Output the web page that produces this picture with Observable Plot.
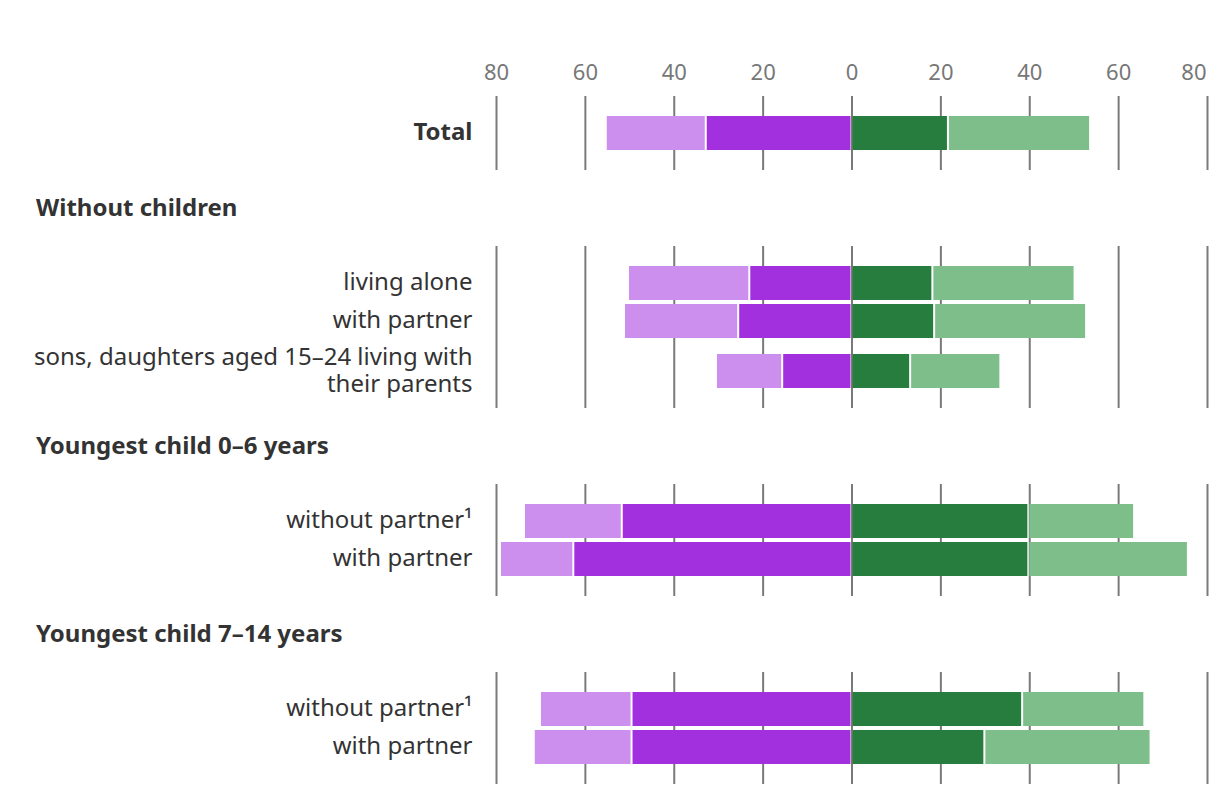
<!DOCTYPE html>
<html>
<head>
<meta charset="utf-8">
<script src="https://cdn.jsdelivr.net/npm/d3@7"></script>
<script src="https://cdn.jsdelivr.net/npm/@observablehq/plot@0.6"></script>
<style>
  html, body { margin: 0; padding: 0; background: #fff; overflow: hidden; }
  body { font-family: "Noto Sans", "Open Sans", sans-serif; color: #333; }
  svg { display: block; overflow: visible; }
  .hdr { height: 76px; box-sizing: border-box; padding-left: 36px; padding-top: 22px; font-size: 24px; font-weight: 700; line-height: 30px; color: #333; white-space: nowrap; }
</style>
</head>
<body>
<div id="chart"></div>
<script>
// ---- data ----
const groupNames = ["Total", "Without children", "Youngest child 0–6 years", "Youngest child 7–14 years"];
const categories = [
  "Total",
  "living alone",
  "with partner",
  "sons, daughters aged 15–24 living with\ntheir parents",
  "without partner¹",
  "with partner",
  "without partner¹",
  "with partner"
];
const rowGroup = [0, 1, 1, 1, 2, 2, 3, 3];
const darkPurple  = [32.8, 23.0, 25.5, 15.6, 51.7, 62.6, 49.5, 49.5];
const lightPurple = [22.5, 27.3, 25.7, 14.9, 22.0, 16.5, 20.6, 22.0];
const darkGreen   = [21.7, 18.2, 18.6, 13.2, 39.8, 39.8, 38.4, 29.9];
const lightGreen  = [32.0, 32.0, 34.2, 20.3, 23.8, 35.9, 27.5, 37.4];
const tickValues = [-80, -60, -40, -20, 0, 20, 40, 60, 80];

const seriesNames = ["darkPurple", "lightPurple", "darkGreen", "lightGreen"];
const seriesColors = ["#a230de", "#cc8fee", "#267d3e", "#7dbe8a"];

function rowsData(rows) {
  return rows.flatMap(i => [
    {row: categories[i], series: "darkPurple", value: -darkPurple[i]},
    {row: categories[i], series: "lightPurple", value: -lightPurple[i]},
    {row: categories[i], series: "darkGreen", value: darkGreen[i]},
    {row: categories[i], series: "lightGreen", value: lightGreen[i]}
  ]);
}

const FONT = "Noto Sans, Open Sans, sans-serif";
const STEP = 38;
function panel(rows, {mt, mb, gridTop, gridBottom, top = false, bold = false}) {
  const height = mt + mb + rows.length * STEP;
  const marks = [
    Plot.ruleX(tickValues, {x: d => d, stroke: "#7a7a7a", strokeWidth: 2, insetTop: -gridTop, insetBottom: -gridBottom}),
    Plot.barX(rowsData(rows), Plot.stackX({
      x: "value", y: "row", fill: "series", order: seriesNames,
      insetLeft: 1, insetRight: 1, insetTop: 2, insetBottom: 2
    })),
    Plot.axisY({tickSize: 0, tickPadding: 24, fontSize: 24, fill: "#333", color: "#333", fontWeight: bold ? 700 : 400, lineAnchor: "middle", lineHeight: 1.12, dy: -2, label: null})
  ];
  if (top) {
    marks.push(Plot.axisX(tickValues.slice(0, -1), {anchor: "top", tickSize: 0, tickPadding: 35, tickFormat: d => Math.abs(d), fontSize: 22, fill: "#777", color: "#777", label: null}));
    marks.push(Plot.axisX(tickValues.slice(-1), {anchor: "top", tickSize: 0, tickPadding: 35, tickFormat: d => Math.abs(d), fontSize: 22, fill: "#777", color: "#777", textAnchor: "end", dx: -1, label: null}));
  }
  return Plot.plot({
    width: 1220,
    height,
    marginLeft: 496,
    marginRight: 13,
    marginTop: mt,
    marginBottom: mb,
    style: {fontFamily: FONT, background: "#fff", overflow: "visible"},
    x: {domain: [-80, 80], axis: top ? undefined : null, label: null},
    y: {domain: rows.map(i => categories[i]), padding: 0, axis: null, label: null},
    color: {domain: seriesNames, range: seriesColors},
    marks
  });
}

function header(text) {
  const d = document.createElement("div");
  d.className = "hdr";
  d.textContent = text;
  return d;
}

const root = document.getElementById("chart");
root.appendChild(panel([0], {mt: 114, mb: 18, gridTop: 18, gridBottom: 18, top: true, bold: true}));
root.appendChild(header(groupNames[1]));
root.appendChild(panel([1, 2], {mt: 18, mb: 0, gridTop: 18, gridBottom: 0}));
root.appendChild(panel([3], {mt: 12, mb: 18, gridTop: 12, gridBottom: 18}));
root.appendChild(header(groupNames[2]));
root.appendChild(panel([4, 5], {mt: 18, mb: 18, gridTop: 18, gridBottom: 18}));
root.appendChild(header(groupNames[3]));
root.appendChild(panel([6, 7], {mt: 18, mb: 18, gridTop: 18, gridBottom: 18}));
</script>
</body>
</html>
